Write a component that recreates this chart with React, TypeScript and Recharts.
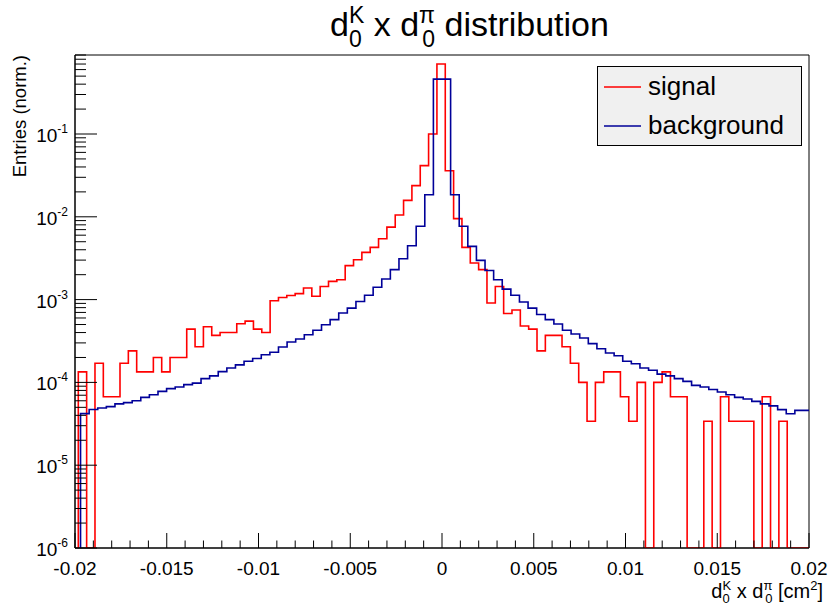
import { LineChart, Line, XAxis, YAxis, ReferenceArea, Legend } from 'recharts';

const FONT = '"Liberation Sans", Arial, Helvetica, sans-serif';

// signal histogram (normalised entries per bin)
const sigStart = -0.01982;
const sigBinWidth = 0.0004545;
const sigValues = [
  1.34e-4, 0, 1.7e-4, 6.7e-5, 6.7e-5, 1.7e-4, 2.4e-4, 1.34e-4, 1.34e-4, 2.0e-4,
  1.34e-4, 2.0e-4, 2.0e-4, 4.4e-4, 2.7e-4, 4.7e-4, 3.7e-4, 4.0e-4, 4.0e-4, 5.1e-4,
  5.5e-4, 4.4e-4, 4.0e-4, 9.7e-4, 1.06e-3, 1.12e-3, 1.18e-3, 1.38e-3, 1.1e-3, 1.44e-3,
  1.66e-3, 1.74e-3, 2.57e-3, 3.03e-3, 3.72e-3, 4.27e-3, 5.44e-3, 7.5e-3, 1.05e-2, 1.58e-2,
  2.38e-2, 4.15e-2, 0.1, 0.7, 3.6e-2, 9.5e-3, 4.27e-3, 2.77e-3, 2.3e-3, 9.1e-4,
  1.44e-3, 6.8e-4, 7.5e-4, 4.8e-4, 4.4e-4, 2.4e-4, 3.7e-4, 3.7e-4, 2.7e-4, 1.7e-4,
  1.0e-4, 3.4e-5, 1.0e-4, 1.34e-4, 1.34e-4, 6.7e-5, 3.4e-5, 1.0e-4, 0, 1.0e-4,
  1.34e-4, 6.7e-5, 6.7e-5, 0, 0, 3.4e-5, 0, 6.7e-5, 3.4e-5, 3.4e-5,
  3.4e-5, 0, 6.7e-5, 0, 3.4e-5, 0, 0, 0,
];

// background histogram
const bkgStart = -0.019698;
const bkgBinWidth = 0.000469;
const bkgValues = [
  4.2e-5, 4.7e-5, 4.9e-5, 5.1e-5, 5.5e-5, 5.7e-5, 6.0e-5, 6.6e-5, 7.1e-5, 7.8e-5,
  8.4e-5, 8.8e-5, 9.4e-5, 9.8e-5, 1.11e-4, 1.2e-4, 1.35e-4, 1.49e-4, 1.63e-4, 1.8e-4,
  1.94e-4, 2.16e-4, 2.31e-4, 2.68e-4, 3.08e-4, 3.34e-4, 3.77e-4, 4.26e-4, 4.98e-4, 5.73e-4,
  6.9e-4, 7.9e-4, 9.5e-4, 1.13e-3, 1.41e-3, 1.77e-3, 2.3e-3, 3.12e-3, 4.48e-3, 7.7e-3,
  1.85e-2, 0.46, 0.46, 1.85e-2, 7.7e-3, 4.4e-3, 2.98e-3, 2.25e-3, 1.74e-3, 1.34e-3,
  1.13e-3, 9.35e-4, 7.9e-4, 6.6e-4, 5.73e-4, 5.07e-4, 4.26e-4, 3.85e-4, 3.44e-4, 2.94e-4,
  2.55e-4, 2.27e-4, 2.1e-4, 1.8e-4, 1.68e-4, 1.49e-4, 1.4e-4, 1.26e-4, 1.2e-4, 1.11e-4,
  1.03e-4, 9.2e-5, 8.8e-5, 8.2e-5, 7.65e-5, 7.1e-5, 6.6e-5, 6.3e-5, 5.9e-5, 5.5e-5,
  5.2e-5, 4.69e-5, 4.19e-5, 4.6e-5, 4.6e-5,
];

const seriesOrder = ['signal', 'background'];
const xMajorTicks = [-0.02, -0.015, -0.01, -0.005, 0, 0.005, 0.01, 0.015, 0.02];
const yDecades = [1e-6, 1e-5, 1e-4, 1e-3, 1e-2, 1e-1];

const X_MIN = -0.02;
const X_MAX = 0.02;
const Y_MIN = 1e-6;
const Y_MAX = 0.9;

// histogram outline as points for a stepAfter line, empty bins drop to the floor
const toSteps = (start: number, width: number, values: number[]) => {
  const pts = [{ x: start, y: Y_MIN }];
  values.forEach((v, i) => pts.push({ x: start + i * width, y: v > 0 ? v : Y_MIN }));
  const last = values[values.length - 1];
  pts.push({ x: start + values.length * width, y: last > 0 ? last : Y_MIN });
  return pts;
};

const sigData = toSteps(sigStart, sigBinWidth, sigValues);
const bkgData = toSteps(bkgStart, bkgBinWidth, bkgValues);

// minor ticks every 0.001
const xTicks: number[] = [];
for (let i = 0; i <= 40; i++) xTicks.push(Number((X_MIN + i * 0.001).toFixed(3)));

const yTicks: number[] = [];
yDecades.forEach((d) => {
  for (let m = 1; m <= 9; m++) {
    const t = Number((m * d).toPrecision(3));
    if (t <= Y_MAX) yTicks.push(t);
  }
});

const XTick = (props: any) => {
  const { x, y, payload } = props;
  const v = payload.value;
  const major = xMajorTicks.some((t) => Math.abs(t - v) < 1e-9);
  return (
    <g>
      <line x1={x} x2={x} y1={y} y2={y - (major ? 15 : 7.5)} stroke="#000" strokeWidth={1} />
      {major && (
        <text x={x} y={y + 27} textAnchor="middle" fontSize={19} fontFamily={FONT} fill="#000">
          {String(Number(v.toFixed(3)))}
        </text>
      )}
    </g>
  );
};

const YTick = (props: any) => {
  const { x, y, payload } = props;
  const lg = Math.log10(payload.value);
  const major = Math.abs(lg - Math.round(lg)) < 1e-6;
  return (
    <g>
      <line x1={x} x2={x + (major ? 22 : 11)} y1={y} y2={y} stroke="#000" strokeWidth={1} />
      {major && (
        <text x={x - 7} y={y + 8} textAnchor="end" fontSize={19} fontFamily={FONT} fill="#000">
          10
          <tspan dy={-9} fontSize={12}>{String(Math.round(lg))}</tspan>
        </text>
      )}
    </g>
  );
};

const LegendBox = ({ payload }: any) => {
  const items = [...(payload || [])].sort(
    (a: any, b: any) => seriesOrder.indexOf(a.value) - seriesOrder.indexOf(b.value)
  );
  return (
    <div
      style={{
        width: 205,
        height: 80,
        boxSizing: 'border-box',
        border: '1px solid #000',
        background: '#f0f0f0',
        fontFamily: FONT,
        fontSize: 26,
        color: '#000',
      }}
    >
      {items.map((entry: any) => (
        <div key={entry.value} style={{ height: 39, display: 'flex', alignItems: 'center' }}>
          <svg width={50} height={10} style={{ flex: 'none' }}>
            <line x1={6} x2={43} y1={5} y2={5} stroke={entry.color} strokeWidth={1.5} />
          </svg>
          <span>{entry.value}</span>
        </div>
      ))}
    </div>
  );
};

const App = () => {
  return (
    <div style={{ position: 'absolute', left: 0, top: 0, width: 830, height: 610, background: '#fff' }}>
      <LineChart width={830} height={610} margin={{ top: 55, right: 21, bottom: 0, left: 0 }}>
        <XAxis
          type="number"
          dataKey="x"
          domain={[X_MIN, X_MAX]}
          allowDataOverflow
          ticks={xTicks}
          interval={0}
          tick={(p: any) => <XTick {...p} />}
          tickLine={false}
          tickSize={0}
          tickMargin={0}
          height={62}
          axisLine={{ stroke: '#000' }}
        />
        <YAxis
          type="number"
          scale="log"
          domain={[Y_MIN, Y_MAX]}
          allowDataOverflow
          ticks={yTicks}
          interval={0}
          tick={(p: any) => <YTick {...p} />}
          tickLine={false}
          tickSize={0}
          tickMargin={0}
          width={75}
          axisLine={{ stroke: '#000' }}
        />
        <ReferenceArea x1={X_MIN} x2={X_MAX} y1={Y_MIN} y2={Y_MAX} fill="none" stroke="#000" strokeWidth={1} ifOverflow="visible" />
        <Line
          data={sigData}
          dataKey="y"
          name="signal"
          type="stepAfter"
          stroke="#ff0000"
          strokeWidth={1.6}
          dot={false}
          activeDot={false}
          isAnimationActive={false}
        />
        <Line
          data={bkgData}
          dataKey="y"
          name="background"
          type="stepAfter"
          stroke="#000099"
          strokeWidth={1.6}
          dot={false}
          activeDot={false}
          isAnimationActive={false}
        />
        <Legend
          layout="horizontal"
          verticalAlign="middle"
          align="center"
          wrapperStyle={{ left: 597, top: 66, width: 205, height: 80 }}
          content={<LegendBox />}
        />
      </LineChart>
      <svg width={830} height={610} style={{ position: 'absolute', left: 0, top: 0, pointerEvents: 'none' }}>
        <text x={330} y={36} fontSize={34} fontFamily={FONT} fill="#000">
          d
          <tspan fontSize={23} dy={-13}>K</tspan>
          <tspan fontSize={23} dx={-15.3} dy={24}>0</tspan>
          <tspan fontSize={34} dx={2.5} dy={-11}>{' x d'}</tspan>
          <tspan fontSize={23} dy={-13}>π</tspan>
          <tspan fontSize={23} dx={-12.7} dy={24}>0</tspan>
          <tspan fontSize={34} dy={-11}>{' distribution'}</tspan>
        </text>
        <text x={823} y={598} textAnchor="end" fontSize={20} fontFamily={FONT} fill="#000">
          d
          <tspan fontSize={13} dy={-8}>K</tspan>
          <tspan fontSize={13} dx={-8.7} dy={13}>0</tspan>
          <tspan fontSize={20} dx={1.5} dy={-5}>{' x d'}</tspan>
          <tspan fontSize={13} dy={-8}>π</tspan>
          <tspan fontSize={13} dx={-7.2} dy={13}>0</tspan>
          <tspan fontSize={20} dy={-5}>{' [cm'}</tspan>
          <tspan fontSize={13} dy={-8}>2</tspan>
          <tspan fontSize={20} dy={8}>]</tspan>
        </text>
        <text transform="translate(26,55) rotate(-90)" textAnchor="end" fontSize={18.5} fontFamily={FONT} fill="#000">
          Entries (norm.)
        </text>
      </svg>
    </div>
  );
};

export default App;
